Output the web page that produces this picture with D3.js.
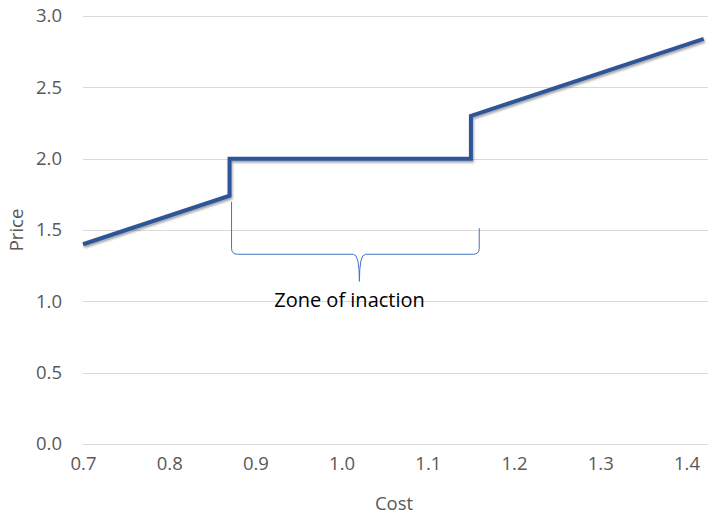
<!DOCTYPE html>
<html>
<head>
<meta charset="utf-8">
<script src="https://cdn.jsdelivr.net/npm/d3@7"></script>
<style>
  html, body { margin: 0; padding: 0; background: #fff; }
  svg { display: block; font-family: "Open Sans", "Noto Sans", sans-serif; }
</style>
</head>
<body>
<svg id="chart" width="709" height="516"></svg>
<script>
// Price response to cost: proportional, except for a flat band in the middle
const costs  = [0.70, 0.87, 0.87, 1.15, 1.15, 1.42];
const prices = [1.40, 1.74, 2.00, 2.00, 2.30, 2.84];

const xTicks = [0.7, 0.8, 0.9, 1.0, 1.1, 1.2, 1.3, 1.4];
const yTicks = [0.0, 0.5, 1.0, 1.5, 2.0, 2.5, 3.0];

// Band annotated by the brace
const zoneStart = 0.87, zoneEnd = 1.155;
const zoneLabel = "Zone of inaction";

const svg = d3.select("#chart");
const margin = { left: 83, right: 1, top: 16, bottom: 72 };
const W = 709, H = 516;
const tickFont = 18.5;

const x = d3.scaleLinear().domain([0.7, 1.425]).range([margin.left, W - margin.right]);
const y = d3.scaleLinear().domain([0, 3]).range([H - margin.bottom, margin.top]);

// drop shadow for the line
const defs = svg.append("defs");
const f = defs.append("filter").attr("id", "shadow")
  .attr("x", "-5%").attr("y", "-5%").attr("width", "110%").attr("height", "120%");
f.append("feDropShadow").attr("dx", 1).attr("dy", 2).attr("stdDeviation", 1.2)
  .attr("flood-color", "#000").attr("flood-opacity", 0.35);

// horizontal gridlines
svg.append("g").selectAll("line").data(yTicks).join("line")
  .attr("x1", x(0.7)).attr("x2", W - margin.right)
  .attr("y1", d => Math.round(y(d)) + 0.5).attr("y2", d => Math.round(y(d)) + 0.5)
  .attr("stroke", "#d9d9d9").attr("stroke-width", 1);

// y tick labels
const yAxis = d3.axisLeft(y).tickValues(yTicks).tickFormat(d3.format(".1f")).tickSize(0).tickPadding(0);
const gy = svg.append("g").attr("transform", `translate(${margin.left - 21},0)`).call(yAxis);
gy.select(".domain").remove();
gy.selectAll("text").attr("font-size", tickFont).attr("fill", "#595959")
  .attr("font-family", "Open Sans, sans-serif");

// x tick labels
const xAxis = d3.axisBottom(x).tickValues(xTicks).tickFormat(d3.format(".1f")).tickSize(0).tickPadding(0);
const gx = svg.append("g").attr("transform", `translate(0,${y(0) + 13})`).call(xAxis);
gx.select(".domain").remove();
gx.selectAll("text").attr("font-size", tickFont).attr("fill", "#595959")
  .attr("font-family", "Open Sans, sans-serif");

// axis titles
svg.append("text").attr("x", 394).attr("y", 510).attr("text-anchor", "middle")
  .attr("font-size", tickFont).attr("fill", "#595959").text("Cost");
svg.append("text").attr("transform", `translate(23,${y(1.5)}) rotate(-90)`)
  .attr("text-anchor", "middle").attr("font-size", tickFont).attr("fill", "#595959").text("Price");

// the price line
const pts = costs.map((c, i) => [c, prices[i]]);
svg.append("path").datum(pts)
  .attr("d", d3.line().x(d => x(d[0])).y(d => y(d[1])))
  .attr("fill", "none").attr("stroke", "#2f5597").attr("stroke-width", 4)
  .attr("stroke-linejoin", "miter").attr("filter", "url(#shadow)");

// curly brace under the flat band
const bx0 = x(zoneStart) + 2, bx1 = x(zoneEnd) + 4;
const bm = (bx0 + bx1) / 2 + 4;
const yLeftTop = y(1.74) + 6, yRightTop = y(1.52) + 1;
const yMid = y(1.33), yTip = y(1.14);
const r = 6;
const brace = `M${bx0},${yLeftTop} L${bx0},${yMid - r} Q${bx0},${yMid} ${bx0 + r},${yMid}
  L${bm - r},${yMid} Q${bm},${yMid} ${bm},${yTip}
  Q${bm},${yMid} ${bm + r},${yMid} L${bx1 - r},${yMid}
  Q${bx1},${yMid} ${bx1},${yMid - r} L${bx1},${yRightTop}`;
svg.append("path").attr("d", brace).attr("fill", "none")
  .attr("stroke", "#4472c4").attr("stroke-width", 1);

svg.append("text").attr("x", 349.5).attr("y", 307).attr("text-anchor", "middle")
  .attr("font-size", 20).attr("fill", "#000").text(zoneLabel);
</script>
</body>
</html>
